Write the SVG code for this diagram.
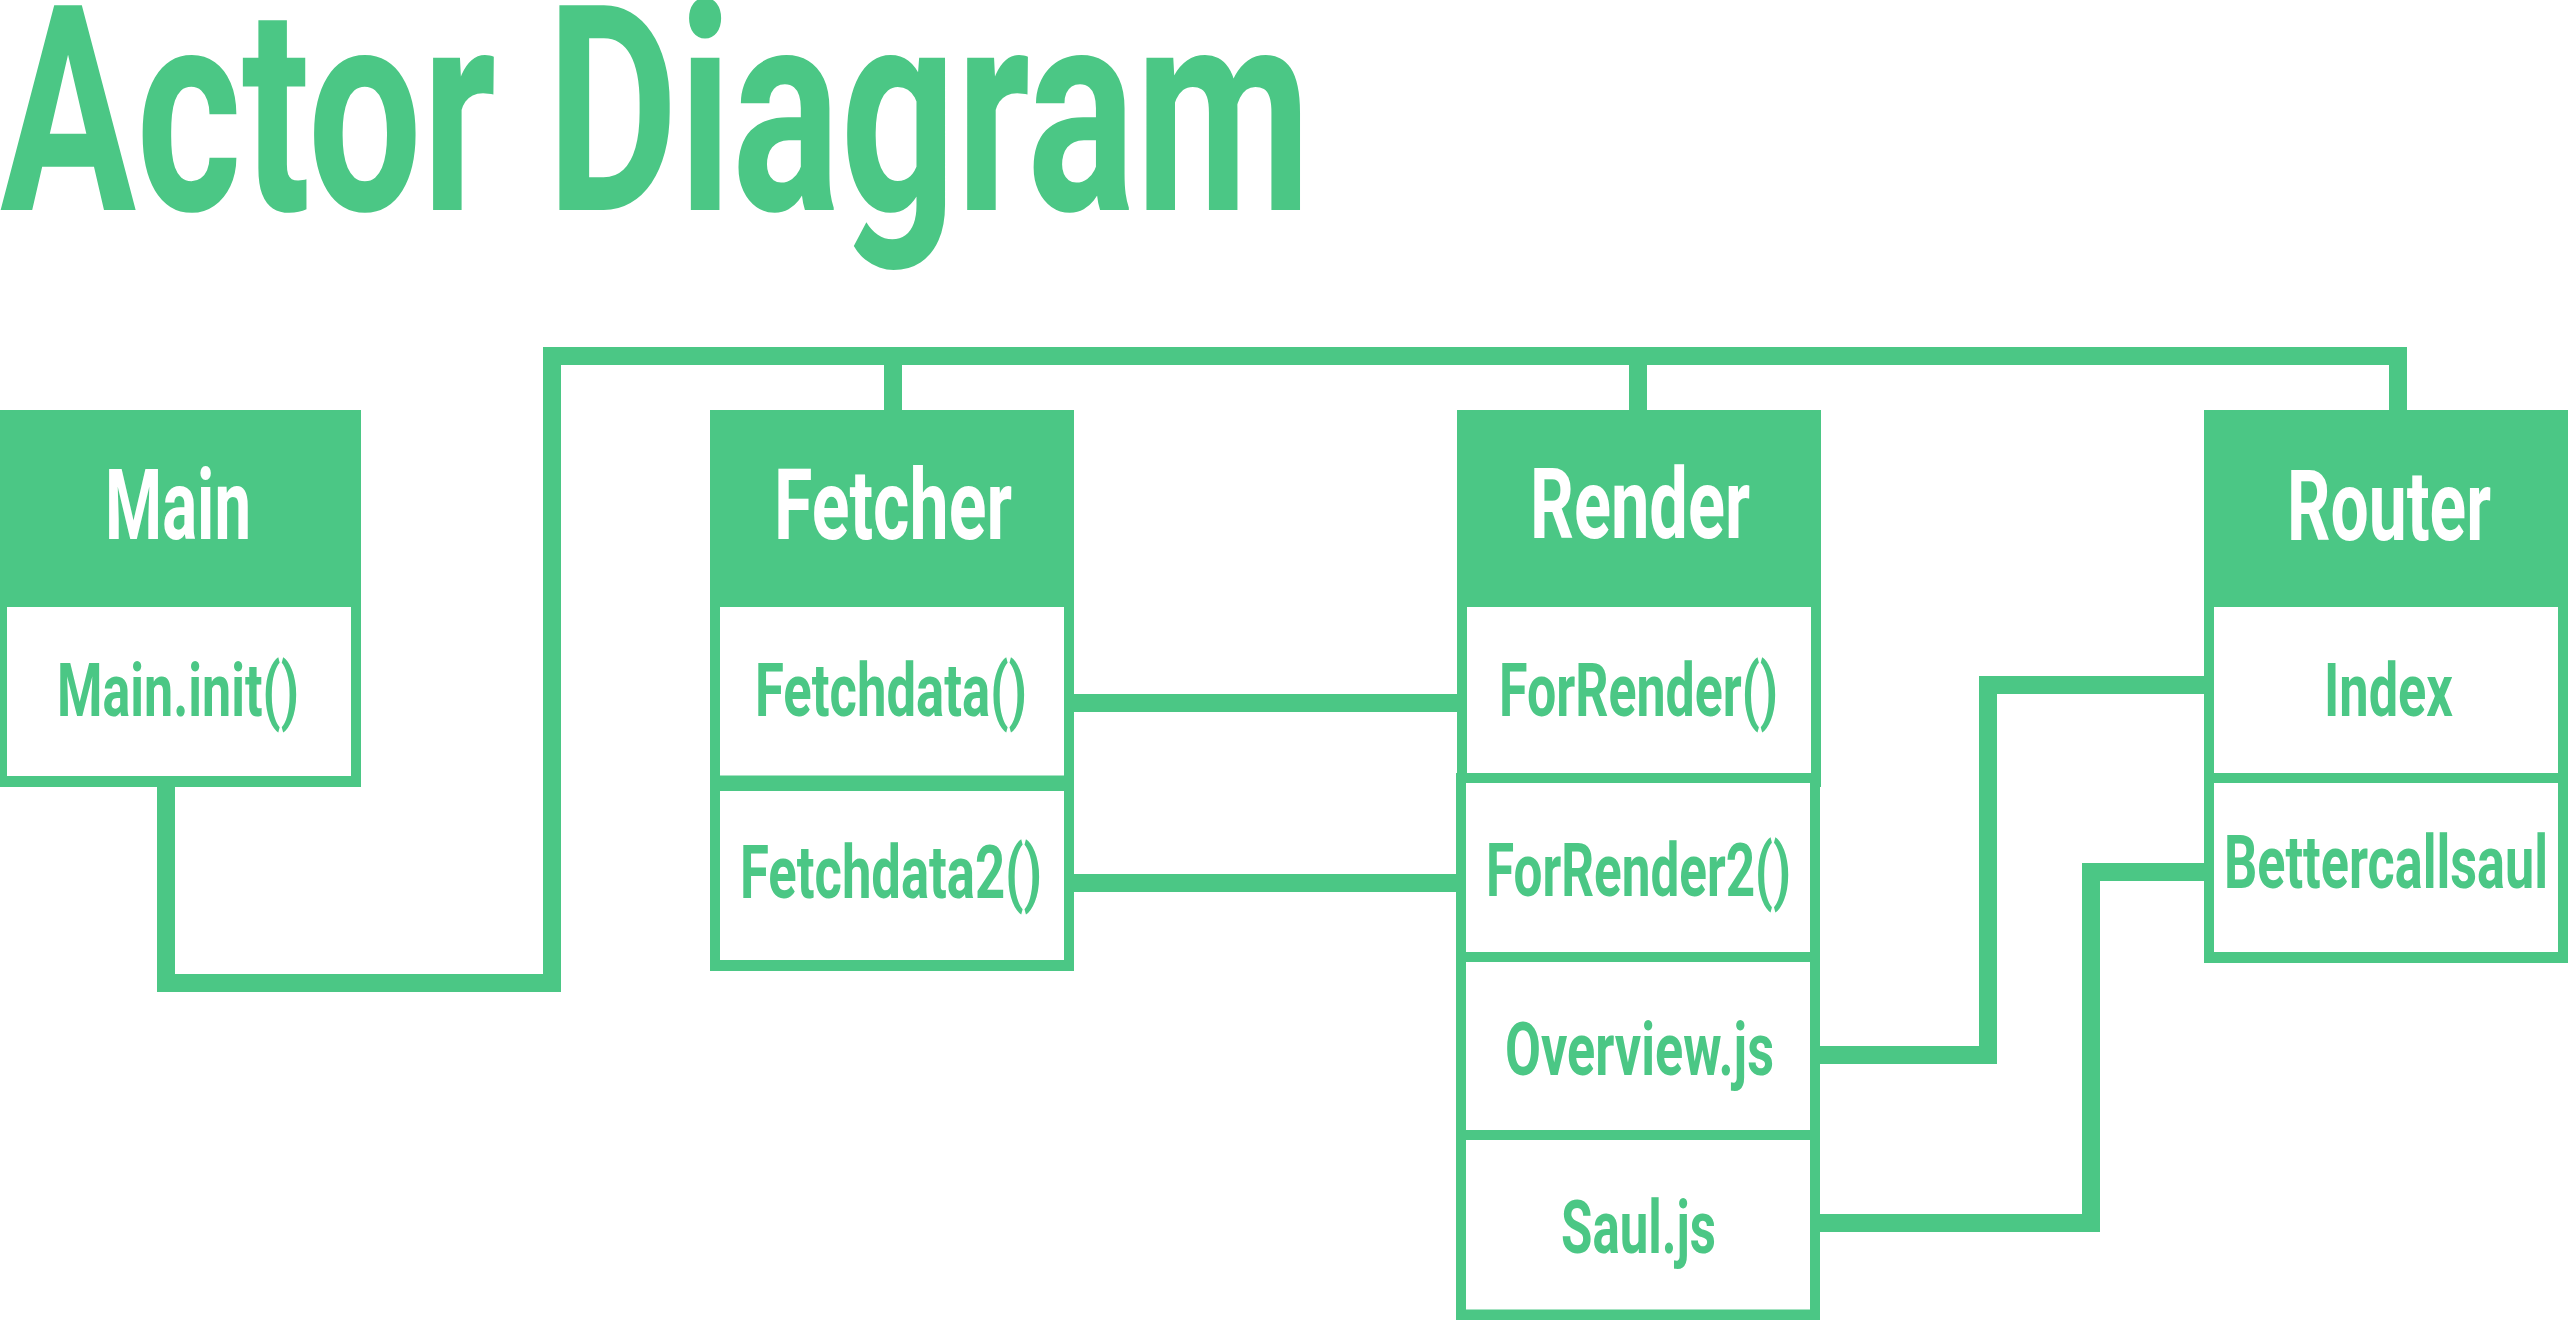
<svg xmlns="http://www.w3.org/2000/svg" width="2568" height="1320" viewBox="0 0 2568 1320">
<style>
  .g{fill:#4BC785}
  .w{fill:#FFFFFF}
  .conn{fill:none;stroke:#4BC785;stroke-width:18;stroke-linejoin:miter;stroke-linecap:butt}
  text{font-family:Roboto,"Liberation Sans",sans-serif;font-weight:700}
  .title{font-size:288px;fill:#4BC785}
  .hd{font-size:98px;fill:#FFFFFF}
  .row{font-size:74px;fill:#4BC785}
</style>
<rect x="0" y="0" width="2568" height="1320" fill="#FFFFFF"/>
<text class="title" x="0" y="210" textLength="1311" lengthAdjust="spacingAndGlyphs">Actor Diagram</text>

<g id="connectors">
  <path class="conn" d="M166,786 V983 H552 V356 H2398 V410"/>
  <path class="conn" d="M893,356 V410"/>
  <path class="conn" d="M1638,356 V410"/>
  <path class="conn" d="M1074,703 H1457"/>
  <path class="conn" d="M1074,883 H1456"/>
  <path class="conn" d="M1820,1055 H1988 V685 H2204"/>
  <path class="conn" d="M1820,1223 H2091 V872 H2204"/>
</g>

<g id="main">
  <rect class="g" x="-3" y="410" width="364" height="377"/>
  <rect class="w" x="7" y="607" width="344" height="169"/>
  <text class="hd" x="105" y="539" textLength="146" lengthAdjust="spacingAndGlyphs">Main</text>
  <text class="row" x="57" y="716" textLength="242" lengthAdjust="spacingAndGlyphs">Main.init()</text>
</g>

<g id="fetcher">
  <rect class="g" x="710" y="410" width="364" height="561"/>
  <rect class="w" x="720" y="607" width="344" height="168.5"/>
  <rect class="w" x="720" y="791" width="344" height="169"/>
  <text class="hd" x="774" y="539" textLength="238" lengthAdjust="spacingAndGlyphs">Fetcher</text>
  <text class="row" x="755" y="716" textLength="272" lengthAdjust="spacingAndGlyphs">Fetchdata()</text>
  <text class="row" x="740" y="898" textLength="302" lengthAdjust="spacingAndGlyphs">Fetchdata2()</text>
</g>

<g id="render">
  <rect class="g" x="1457" y="410" width="364" height="377"/>
  <rect class="g" x="1456" y="773" width="364" height="547"/>
  <rect class="w" x="1467" y="607" width="344" height="166"/>
  <rect class="w" x="1466" y="783" width="344" height="169"/>
  <rect class="w" x="1466" y="962" width="344" height="168"/>
  <rect class="w" x="1466" y="1140" width="344" height="169.5"/>
  <text class="hd" x="1530" y="538" textLength="220" lengthAdjust="spacingAndGlyphs">Render</text>
  <text class="row" x="1499" y="716" textLength="279" lengthAdjust="spacingAndGlyphs">ForRender()</text>
  <text class="row" x="1486" y="896" textLength="305" lengthAdjust="spacingAndGlyphs">ForRender2()</text>
  <text class="row" x="1505" y="1075" textLength="269" lengthAdjust="spacingAndGlyphs">Overview.js</text>
  <text class="row" x="1561" y="1253" textLength="155" lengthAdjust="spacingAndGlyphs">Saul.js</text>
</g>

<g id="router">
  <rect class="g" x="2204" y="410" width="364" height="553"/>
  <rect class="w" x="2214" y="607" width="344" height="166"/>
  <rect class="w" x="2214" y="783" width="344" height="169"/>
  <text class="hd" x="2287" y="540" textLength="204" lengthAdjust="spacingAndGlyphs">Router</text>
  <text class="row" x="2324" y="716" textLength="129" lengthAdjust="spacingAndGlyphs">Index</text>
  <text class="row" x="2224" y="888" textLength="324" lengthAdjust="spacingAndGlyphs">Bettercallsaul</text>
</g>
</svg>
